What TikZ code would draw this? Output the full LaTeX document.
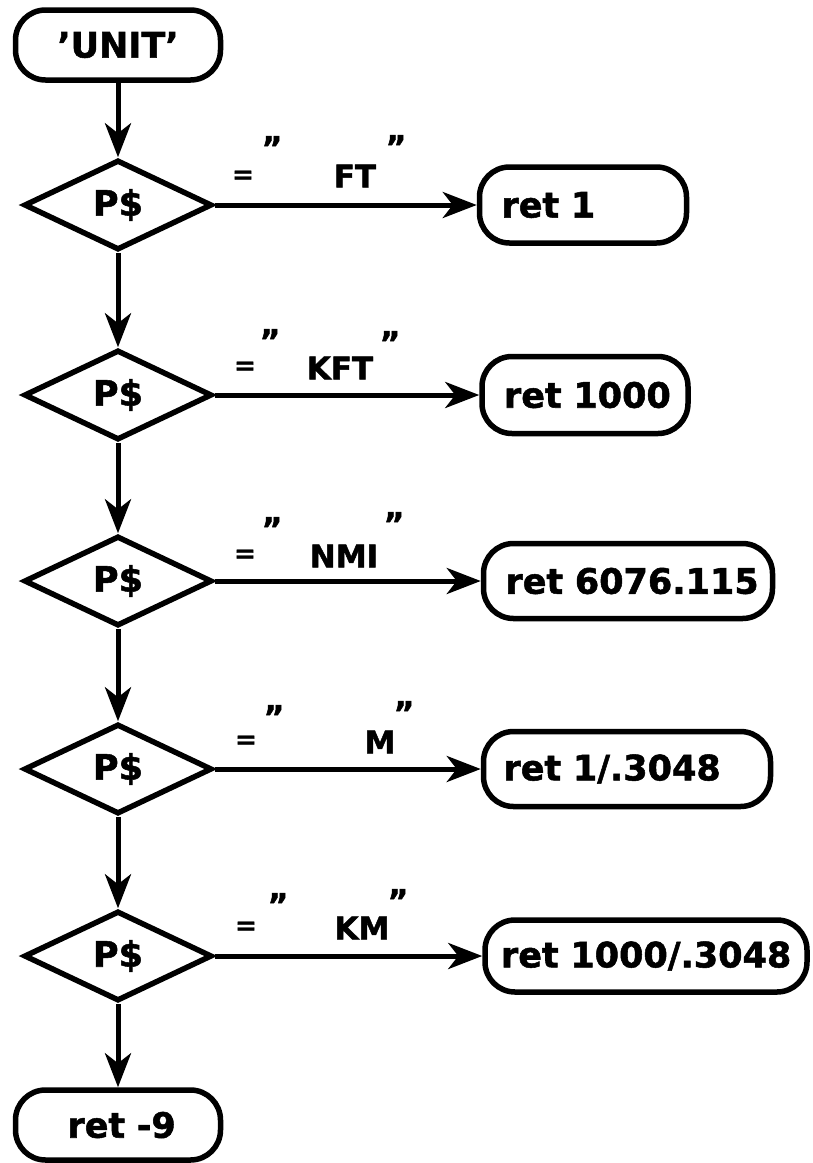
\documentclass[tikz,border=0pt]{standalone}
\usepackage{fontspec}
\setmainfont{DejaVu Sans}[BoldFeatures={FakeBold=1.5}]
\usetikzlibrary{shapes.geometric,arrows.meta}
\begin{document}
\begin{tikzpicture}[x=1pt,y=-1pt,
  every node/.style={font=\bfseries\fontsize{35}{37}\selectfont},
  term/.style={draw, line width=5.5pt, rounded corners=30pt, inner sep=0pt},
  retbox/.style={term, inner xsep=22pt, align=left},
  dec/.style={draw, diamond, line width=5.5pt, minimum width=188pt, minimum height=90pt, inner sep=0pt},
  flow/.style={line width=5pt, -{Stealth[length=34pt,width=26pt,inset=10pt]}},
  lbl/.style={font=\bfseries\fontsize{31}{33}\selectfont, inner sep=0pt},
  eqs/.style={font=\bfseries\fontsize{26}{28}\selectfont, inner sep=0pt},
  quo/.style={font=\bfseries\fontsize{32}{34}\selectfont, inner sep=0pt, anchor=north}]
\useasboundingbox (0,0) rectangle (812,1163);

% terminals
\node[term, minimum width=205pt, minimum height=70pt] (unit) at (118,45) {'UNIT'};
\node[term, minimum width=205pt, minimum height=70pt, text width=161pt, inner xsep=22pt, align=left] (m9) at (118,1125) {\mbox{\hspace{30pt}ret -9}};

% decisions
\node[dec] (d1) at (118,205) {P\$};
\node[dec] (d2) at (118,395) {P\$};
\node[dec] (d3) at (118,581) {P\$};
\node[dec] (d4) at (118,769) {P\$};
\node[dec] (d5) at (118,956) {P\$};

% return boxes
\node[retbox, text width=163pt, minimum height=76pt] (r1) at (583,205) {\mbox{ret 1}};
\node[retbox, text width=162pt, minimum height=77pt] (r2) at (585,395) {\mbox{ret 1000}};
\node[retbox, text width=245pt, minimum height=75pt] (r3) at (628,581) {\mbox{ret 6076.115}};
\node[retbox, text width=247pt, minimum height=75pt, inner xsep=20pt] (r4) at (627,769) {\mbox{ret 1/.3048}};
\node[retbox, text width=290pt, minimum height=72pt, inner xsep=16pt] (r5) at (646,956) {\mbox{ret 1000/.3048}};

% vertical flow
\draw[flow] (unit.south) -- (d1.north);
\draw[flow] (d1.south) -- (d2.north);
\draw[flow] (d2.south) -- (d3.north);
\draw[flow] (d3.south) -- (d4.north);
\draw[flow] (d4.south) -- (d5.north);
\draw[flow] (d5.south) -- (m9.north);

% horizontal flow
\draw[flow] (d1.east) -- (r1.west);
\draw[flow] (d2.east) -- (r2.west);
\draw[flow] (d3.east) -- (r3.west);
\draw[flow] (d4.east) -- (r4.west);
\draw[flow] (d5.east) -- (r5.west);

% labels
\node[eqs] (e1) at (243,177) {=};
\node[quo] (o1) at (272,136) {"};
\node[lbl] (t1) at (355,176) {FT};
\node[quo] (c1) at (396,135) {"};

\node[eqs] (e2) at (245,368) {=};
\node[quo] (o2) at (270,329) {"};
\node[lbl] (t2) at (340,368) {KFT};
\node[quo] (c2) at (390,331) {"};

\node[eqs] (e3) at (245,556) {=};
\node[quo] (o3) at (272,517) {"};
\node[lbl] (t3) at (344,556) {NMI};
\node[quo] (c3) at (394,512) {"};

\node[eqs] (e4) at (246,742) {=};
\node[quo] (o4) at (274,705) {"};
\node[lbl] (t4) at (380,742) {M};
\node[quo] (c4) at (404,701) {"};

\node[eqs] (e5) at (246,928) {=};
\node[quo] (o5) at (278,893) {"};
\node[lbl] (t5) at (362,928) {KM};
\node[quo] (c5) at (398,889) {"};
\end{tikzpicture}
\end{document}
